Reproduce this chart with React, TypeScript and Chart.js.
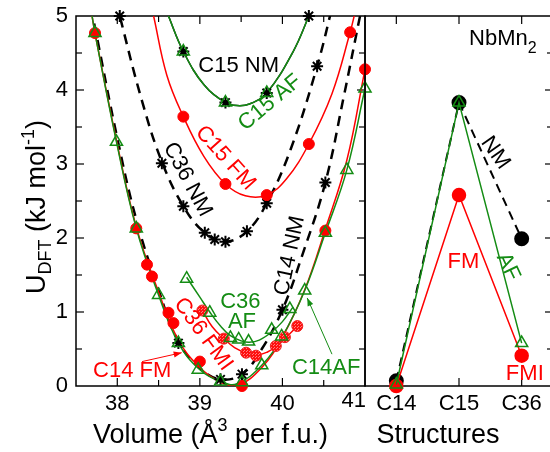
import React, { useEffect, useRef } from 'react';
import { Chart, registerables } from 'chart.js';

Chart.register(...registerables);

const FONT = '"Liberation Sans", Arial, Helvetica, sans-serif';
const RED = '#ff0000';
const GREEN = 'rgb(20,140,20)';
const BLACK = '#000000';

// ---------- Left panel: U_DFT vs volume ----------
const volumeTicks = [38, 39, 40, 41];
const energyTicks = [0, 1, 2, 3, 4, 5];

// C14 (FM / AF / NM) computed points
const c14FmVol = [37.73, 38.23, 38.36, 38.42, 38.62, 38.68, 39.0, 39.51, 40.52, 41.0];
const c14FmU = [4.77, 2.13, 1.64, 1.48, 0.99, 0.85, 0.33, 0.0, 2.1, 4.28];
const c14AfVol = [37.73, 37.99, 38.23, 38.5, 38.74, 38.98, 39.25, 39.51, 39.75, 39.99, 40.27, 40.52, 40.78, 41.0];
const c14AfU = [4.77, 3.3, 2.13, 1.23, 0.58, 0.22, 0.06, 0.05, 0.28, 0.67, 1.29, 2.07, 2.92, 4.02];
const c14NmVol = [38.74, 39.25, 39.51, 40.0, 40.52];
const c14NmU = [0.58, 0.09, 0.16, 1.03, 2.75];

// C14 fitted curves
const c14FitVol = [37.68, 37.73, 37.99, 38.23, 38.5, 38.74, 39.0, 39.25, 39.45, 39.75, 40.0, 40.27, 40.52, 40.78, 41.0];
const c14FmFitU = [5.1, 4.77, 3.32, 2.15, 1.27, 0.62, 0.25, 0.05, 0.0, 0.25, 0.66, 1.3, 2.12, 3.05, 4.28];
const c14AfFitU = [5.1, 4.77, 3.3, 2.13, 1.23, 0.58, 0.22, 0.06, 0.03, 0.28, 0.67, 1.29, 2.07, 2.92, 4.02];
const c14NmFitVol = [37.72, 38.0, 38.23, 38.5, 38.74, 39.0, 39.25, 39.51, 39.75, 40.0, 40.25, 40.52, 40.75, 40.94, 40.98];
const c14NmFitU = [4.9, 3.35, 2.25, 1.3, 0.6, 0.24, 0.09, 0.16, 0.5, 1.03, 1.8, 2.75, 3.95, 5.0, 5.2];

// C15
const c15NmVol = [38.8, 39.31, 39.81, 40.32];
const c15NmU = [4.52, 3.83, 3.96, 5.0];
const c15AfVol = [38.8, 39.31, 39.81];
const c15AfU = [4.52, 3.83, 3.96];
const c15FmVol = [38.8, 39.31, 39.81, 40.32, 40.82];
const c15FmU = [3.64, 2.73, 2.58, 3.27, 4.78];
const c15NmFitVol = [38.58, 38.62, 38.8, 39.05, 39.31, 39.45, 39.6, 39.81, 40.13, 40.32, 40.36];
const c15NmFitU = [5.12, 5.0, 4.52, 4.07, 3.83, 3.79, 3.81, 3.96, 4.52, 5.0, 5.12];
const c15FmFitVol = [38.4, 38.44, 38.6, 38.8, 39.05, 39.31, 39.55, 39.81, 40.05, 40.32, 40.6, 40.82, 40.88];
const c15FmFitU = [5.2, 5.0, 4.2, 3.64, 3.1, 2.73, 2.57, 2.58, 2.8, 3.27, 3.95, 4.78, 5.05];

// C36
const c36NmVol = [38.03, 38.54, 38.8, 39.06, 39.18, 39.31, 39.57, 39.81, 40.42];
const c36NmU = [5.0, 3.01, 2.43, 2.07, 1.98, 1.95, 2.09, 2.47, 4.32];
const c36NmFitVol = [37.99, 38.03, 38.3, 38.54, 38.8, 39.06, 39.31, 39.57, 39.81, 40.1, 40.42, 40.62];
const c36NmFitU = [5.2, 5.0, 3.85, 3.03, 2.43, 2.07, 1.95, 2.09, 2.47, 3.2, 4.32, 5.2];
const c36AfVol = [38.84, 39.12, 39.37, 39.47, 39.59, 39.87, 40.09];
const c36AfU = [1.45, 0.99, 0.65, 0.63, 0.6, 0.76, 1.04];
const c36AfFitVol = [38.84, 39.0, 39.12, 39.25, 39.37, 39.5, 39.6, 39.72, 39.87, 40.0, 40.13];
const c36AfFitU = [1.47, 1.2, 1.0, 0.81, 0.68, 0.61, 0.59, 0.62, 0.73, 0.87, 1.07];
const c36FmiVol = [39.03, 39.29, 39.56, 39.68, 39.92, 40.03, 40.18];
const c36FmiU = [1.02, 0.64, 0.45, 0.41, 0.54, 0.66, 0.81];
const c36FmiFitVol = [39.03, 39.15, 39.29, 39.42, 39.56, 39.7, 39.82, 39.92, 40.03, 40.18];
const c36FmiFitU = [1.02, 0.8, 0.64, 0.52, 0.45, 0.42, 0.46, 0.53, 0.64, 0.81];

// ---------- Right panel: minima per structure ----------
const structures = ['C14', 'C15', 'C36'];
const nmMin = [0.07, 3.83, 1.99];
const fmMin = [0.0, 2.58, 0.41];
const afMin = [0.02, 3.83, 0.58];

// ---------- Annotations (text, data position, colour, rotation) ----------
const leftNoteText = ['C15 NM', 'C15 AF', 'C15 FM', 'C36 NM', 'C14 NM', 'C36', 'AF', 'C36 FMI', 'C14 FM', 'C14AF'];
const leftNotePos = [
  [39.47, 4.32], [39.85, 3.83], [39.31, 3.08], [38.85, 2.79], [40.09, 1.76],
  [39.49, 1.13], [39.51, 0.86], [39.04, 0.7], [38.18, 0.2], [40.53, 0.25],
];
const leftNoteColor = [BLACK, GREEN, RED, BLACK, BLACK, GREEN, GREEN, RED, RED, GREEN];
const leftNoteRot = [0, -40, 48, 62, -78, 0, 0, 54, 0, 0];

const rightNoteText = ['NM', 'FM', 'AF', 'FMI'];
const rightNotePos = [[1.58, 3.15], [1.07, 1.67], [1.78, 1.61], [2.05, 0.16]];
const rightNoteColor = [BLACK, RED, GREEN, RED];
const rightNoteRot = [55, 0, 65, 0];

const pts = (xs: number[], ys: number[]) => xs.map((x, i) => ({ x, y: ys[i] }));

function drawText(ctx: CanvasRenderingContext2D, text: string, x: number, y: number, color: string, rot: number, size = 22) {
  ctx.save();
  ctx.translate(x, y);
  ctx.rotate((rot * Math.PI) / 180);
  ctx.font = `${size}px ${FONT}`;
  ctx.fillStyle = color;
  ctx.textAlign = 'center';
  ctx.textBaseline = 'middle';
  ctx.fillText(text, 0, 0);
  ctx.restore();
}

type Seg = { t: string; size: number; dy: number };
function drawRich(ctx: CanvasRenderingContext2D, segs: Seg[], cx: number, baseY: number, rot: number, color = BLACK) {
  ctx.save();
  ctx.translate(cx, baseY);
  ctx.rotate((rot * Math.PI) / 180);
  ctx.fillStyle = color;
  ctx.textBaseline = 'alphabetic';
  ctx.textAlign = 'left';
  let total = 0;
  const widths = segs.map((s) => {
    ctx.font = `${s.size}px ${FONT}`;
    const w = ctx.measureText(s.t).width;
    total += w;
    return w;
  });
  let x = -total / 2;
  segs.forEach((s, i) => {
    ctx.font = `${s.size}px ${FONT}`;
    ctx.fillText(s.t, x, s.dy);
    x += widths[i];
  });
  ctx.restore();
}

function drawArrow(ctx: CanvasRenderingContext2D, x1: number, y1: number, x2: number, y2: number, color: string) {
  ctx.save();
  ctx.strokeStyle = color;
  ctx.fillStyle = color;
  ctx.lineWidth = 1;
  ctx.beginPath();
  ctx.moveTo(x1, y1);
  ctx.lineTo(x2, y2);
  ctx.stroke();
  const a = Math.atan2(y2 - y1, x2 - x1);
  const L = 8;
  const W = 3;
  ctx.beginPath();
  ctx.moveTo(x2, y2);
  ctx.lineTo(x2 - L * Math.cos(a) + W * Math.sin(a), y2 - L * Math.sin(a) - W * Math.cos(a));
  ctx.lineTo(x2 - L * Math.cos(a) - W * Math.sin(a), y2 - L * Math.sin(a) + W * Math.cos(a));
  ctx.closePath();
  ctx.fill();
  ctx.restore();
}

function frame(ctx: CanvasRenderingContext2D, a: any) {
  ctx.save();
  ctx.strokeStyle = BLACK;
  ctx.lineWidth = 1.5;
  ctx.strokeRect(a.left, a.top, a.right - a.left, a.bottom - a.top);
  ctx.restore();
}

function tick(ctx: CanvasRenderingContext2D, x1: number, y1: number, x2: number, y2: number) {
  ctx.beginPath();
  ctx.moveTo(x1, y1);
  ctx.lineTo(x2, y2);
  ctx.stroke();
}

const leftDecor = {
  id: 'leftDecor',
  beforeDatasetsDraw(chart: any) {
    const { ctx, chartArea: a, scales } = chart;
    const xs = scales.x;
    const ys = scales.y;
    frame(ctx, a);
    ctx.save();
    ctx.strokeStyle = BLACK;
    ctx.lineWidth = 1.2;
    for (let v = 37.5; v <= 41.001; v += 0.5) {
      const px = xs.getPixelForValue(v);
      if (px < a.left + 1 || px > a.right - 1) continue;
      const L = Number.isInteger(v) ? 8 : 6;
      tick(ctx, px, a.bottom, px, a.bottom - L);
      tick(ctx, px, a.top, px, a.top + L);
    }
    for (let v = 0; v <= 5.001; v += 0.5) {
      const py = ys.getPixelForValue(v);
      if (py < a.top + 1 || py > a.bottom - 1) continue;
      const L = Number.isInteger(v) ? 8 : 6;
      tick(ctx, a.left, py, a.left + L, py);
      tick(ctx, a.right, py, a.right - L, py);
    }
    ctx.restore();
  },
  afterDatasetsDraw(chart: any) {
    const { ctx, chartArea: a, scales } = chart;
    const xs = scales.x;
    const ys = scales.y;
    leftNoteText.forEach((t, i) => {
      drawText(ctx, t, xs.getPixelForValue(leftNotePos[i][0]), ys.getPixelForValue(leftNotePos[i][1]), leftNoteColor[i], leftNoteRot[i]);
    });
    drawArrow(ctx, xs.getPixelForValue(38.3), ys.getPixelForValue(0.33), xs.getPixelForValue(38.78), ys.getPixelForValue(0.45), RED);
    drawArrow(ctx, xs.getPixelForValue(40.6), ys.getPixelForValue(0.43), xs.getPixelForValue(40.3), ys.getPixelForValue(1.19), GREEN);
    // last volume tick label, kept inside the panel
    ctx.save();
    ctx.font = `22px ${FONT}`;
    ctx.fillStyle = BLACK;
    ctx.textAlign = 'right';
    ctx.textBaseline = 'top';
    ctx.fillText(String(volumeTicks[volumeTicks.length - 1]), xs.getPixelForValue(41) + 1, a.bottom + 4);
    ctx.restore();
    // axis titles
    drawRich(ctx, [
      { t: 'Volume (Å', size: 27, dy: 0 },
      { t: '3', size: 18, dy: -12 },
      { t: ' per f.u.)', size: 27, dy: 0 },
    ], (a.left + a.right) / 2 - 10, 443, 0);
    drawRich(ctx, [
      { t: 'U', size: 27, dy: 0 },
      { t: 'DFT', size: 18, dy: 6 },
      { t: ' (kJ mol', size: 27, dy: 0 },
      { t: '-1', size: 18, dy: -11 },
      { t: ')', size: 27, dy: 0 },
    ], 45, 207, -90);
  },
};

const rightDecor = {
  id: 'rightDecor',
  beforeDatasetsDraw(chart: any) {
    const { ctx, chartArea: a, scales } = chart;
    const xs = scales.x;
    const ys = scales.y;
    frame(ctx, a);
    ctx.save();
    ctx.strokeStyle = BLACK;
    ctx.lineWidth = 1.2;
    structures.forEach((_, i) => {
      const px = xs.getPixelForValue(i);
      tick(ctx, px, a.bottom, px, a.bottom - 8);
      tick(ctx, px, a.top, px, a.top + 8);
    });
    for (let v = 0; v <= 5.001; v += 0.5) {
      const py = ys.getPixelForValue(v);
      if (py < a.top + 1 || py > a.bottom - 1) continue;
      const L = Number.isInteger(v) ? 8 : 6;
      tick(ctx, a.right, py, a.right - L, py);
    }
    ctx.restore();
  },
  afterDatasetsDraw(chart: any) {
    const { ctx, scales } = chart;
    const xs = scales.x;
    const ys = scales.y;
    rightNoteText.forEach((t, i) => {
      drawText(ctx, t, xs.getPixelForValue(rightNotePos[i][0]), ys.getPixelForValue(rightNotePos[i][1]), rightNoteColor[i], rightNoteRot[i]);
    });
    drawRich(ctx, [
      { t: 'NbMn', size: 22, dy: 0 },
      { t: '2', size: 16, dy: 8 },
    ], xs.getPixelForValue(1.7), ys.getPixelForValue(4.72) + 8, 0);
    drawRich(ctx, [{ t: 'Structures', size: 27, dy: 0 }], 138, 443, 0);
  },
};

function fmiPattern(): CanvasPattern | string {
  const c = document.createElement('canvas');
  c.width = 3;
  c.height = 3;
  const g = c.getContext('2d');
  if (!g) return RED;
  g.fillStyle = '#ff1010';
  g.fillRect(0, 0, 3, 3);
  g.fillStyle = '#ff8080';
  g.fillRect(0, 0, 1, 1);
  g.fillRect(1, 2, 1, 1);
  const p = g.createPattern(c, 'repeat');
  return p || RED;
}

const fitLine = (data: any[], color: string, width: number, dash: number[] = []) => ({
  data,
  borderColor: color,
  borderWidth: width,
  borderDash: dash,
  pointRadius: 0,
  tension: 0.4,
  fill: false,
  clip: 0,
});

const markers = (data: any[], style: string, border: string, bg: any, radius: number, bw: number, order: number) => ({
  data,
  showLine: false,
  pointStyle: style,
  pointRadius: radius,
  pointBorderColor: border,
  pointBackgroundColor: bg,
  pointBorderWidth: bw,
  clip: false,
  order,
});

export default function App() {
  const leftRef = useRef<HTMLCanvasElement>(null);
  const rightRef = useRef<HTMLCanvasElement>(null);

  useEffect(() => {
    const fmi = fmiPattern();
    const tri = 'rgba(255,255,255,0)';
    const left = new Chart(leftRef.current as HTMLCanvasElement, {
      type: 'line',
      data: {
        datasets: [
          markers(pts(c14AfVol, c14AfU), 'triangle', GREEN, tri, 7, 1.5, 1),
          markers(pts(c15AfVol, c15AfU), 'triangle', GREEN, tri, 7, 1.5, 2),
          markers(pts(c36AfVol, c36AfU), 'triangle', GREEN, tri, 7, 1.5, 3),
          markers(pts(c14FmVol, c14FmU), 'circle', RED, RED, 5.5, 1, 4),
          markers(pts(c15FmVol, c15FmU), 'circle', RED, RED, 5.5, 1, 5),
          markers(pts(c36FmiVol, c36FmiU), 'circle', '#ee2222', fmi, 5.5, 1, 6),
          markers(pts(c14NmVol, c14NmU), 'star', BLACK, BLACK, 6, 2, 7),
          markers(pts(c15NmVol, c15NmU), 'star', BLACK, BLACK, 6, 2, 8),
          markers(pts(c36NmVol, c36NmU), 'star', BLACK, BLACK, 6, 2, 9),
          { ...fitLine(pts(c14FitVol, c14AfFitU), GREEN, 1.5), order: 10 },
          { ...fitLine(pts(c15NmFitVol, c15NmFitU), GREEN, 1.5), order: 11 },
          { ...fitLine(pts(c36AfFitVol, c36AfFitU), GREEN, 1.5), order: 12 },
          { ...fitLine(pts(c14FitVol, c14FmFitU), RED, 1.5), order: 13 },
          { ...fitLine(pts(c15FmFitVol, c15FmFitU), RED, 1.5), order: 14 },
          { ...fitLine(pts(c36FmiFitVol, c36FmiFitU), RED, 1.5), order: 15 },
          { ...fitLine(pts(c15NmFitVol, c15NmFitU), BLACK, 1.5), order: 16 },
          { ...fitLine(pts(c36NmFitVol, c36NmFitU), BLACK, 2.5, [10, 7]), order: 17 },
          { ...fitLine(pts(c14NmFitVol, c14NmFitU), BLACK, 2.5, [10, 7]), order: 18 },
        ] as any,
      },
      options: {
        responsive: false,
        animation: false,
        events: [],
        layout: { autoPadding: false, padding: { left: 0, top: 16, right: 15, bottom: 0 } },
        plugins: { legend: { display: false }, tooltip: { enabled: false } },
        scales: {
          x: {
            type: 'linear',
            min: 37.5,
            max: 41,
            afterBuildTicks: (s: any) => {
              s.ticks = volumeTicks.map((v) => ({ value: v }));
            },
            afterFit: (s: any) => {
              s.height = 66;
              s.paddingLeft = 0;
              s.paddingRight = 0;
            },
            grid: { display: false, drawTicks: false },
            border: { display: false },
            ticks: {
              color: BLACK,
              font: { family: FONT, size: 22 },
              padding: 5,
              maxRotation: 0,
              autoSkip: false,
              callback: (v: any) => (v === 41 ? '' : String(v)),
            },
          },
          y: {
            type: 'linear',
            min: 0,
            max: 5,
            afterBuildTicks: (s: any) => {
              s.ticks = energyTicks.map((v) => ({ value: v }));
            },
            afterFit: (s: any) => {
              s.width = 76;
              s.paddingTop = 0;
              s.paddingBottom = 0;
            },
            grid: { display: false, drawTicks: false },
            border: { display: false },
            ticks: {
              color: BLACK,
              font: { family: FONT, size: 22 },
              padding: 8,
              callback: (v: any) => String(v),
            },
          },
        },
      } as any,
      plugins: [leftDecor],
    });

    const right = new Chart(rightRef.current as HTMLCanvasElement, {
      type: 'line',
      data: {
        labels: structures,
        datasets: [
          { data: afMin, borderColor: GREEN, borderWidth: 1.5, pointStyle: 'triangle', pointRadius: 7, pointBorderColor: GREEN, pointBackgroundColor: tri, pointBorderWidth: 1.5, tension: 0, clip: false, order: 1 },
          { data: fmMin, borderColor: RED, borderWidth: 1.5, pointStyle: 'circle', pointRadius: 6.5, pointBorderColor: RED, pointBackgroundColor: RED, tension: 0, clip: false, order: 2 },
          { data: nmMin, borderColor: BLACK, borderWidth: 2, borderDash: [9, 6], pointStyle: 'circle', pointRadius: 6.5, pointBorderColor: BLACK, pointBackgroundColor: BLACK, tension: 0, clip: false, order: 3 },
        ] as any,
      },
      options: {
        responsive: false,
        animation: false,
        events: [],
        layout: { autoPadding: false, padding: { left: 65, top: 16, right: 3, bottom: 0 } },
        plugins: { legend: { display: false }, tooltip: { enabled: false } },
        scales: {
          x: {
            type: 'category',
            offset: true,
            afterFit: (s: any) => {
              s.height = 66;
              s.paddingLeft = 0;
              s.paddingRight = 0;
            },
            grid: { display: false, drawTicks: false },
            border: { display: false },
            ticks: { color: BLACK, font: { family: FONT, size: 22 }, padding: 5, maxRotation: 0, autoSkip: false },
          },
          y: { type: 'linear', min: 0, max: 5, display: false },
        },
      } as any,
      plugins: [rightDecor],
    });

    return () => {
      left.destroy();
      right.destroy();
    };
  }, []);

  return (
    <div style={{ position: 'fixed', left: 0, top: 0, width: 550, height: 452, overflow: 'hidden', background: '#ffffff' }}>
      <canvas ref={leftRef} width={380} height={452} style={{ position: 'absolute', left: 0, top: 0 }} />
      <canvas ref={rightRef} width={256} height={452} style={{ position: 'absolute', left: 300, top: 0 }} />
    </div>
  );
}
